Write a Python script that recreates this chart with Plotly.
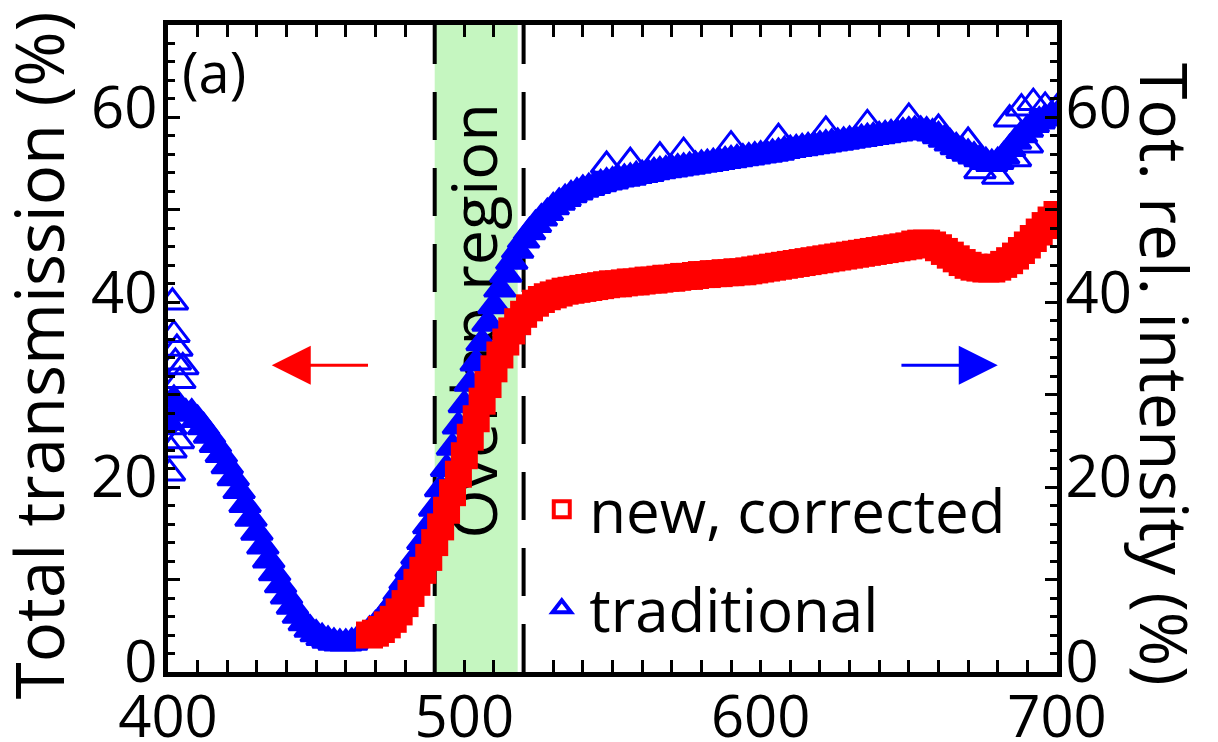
import plotly.graph_objects as go

# ---------------- data ----------------
trad_x = list(range(400, 701, 2))
trad_y = [27.0, 29.5, 28.5, 28.0, 28.0, 27.3, 26.5, 25.6, 24.6, 23.5,
          22.3, 21.0, 19.6, 18.1, 16.6, 15.1, 13.6, 12.1, 10.7, 9.4,
          8.2, 7.1, 6.1, 5.3, 4.6, 4.1, 3.7, 3.4, 3.2, 3.1,
          3.1, 3.2, 3.5, 3.9, 4.5, 5.1, 5.8, 6.6, 7.5, 8.6,
          9.8, 11.1, 12.5, 14.1, 15.8, 17.7, 19.8, 22.0, 24.3, 26.6,
          28.9, 31.2, 33.4, 35.6, 37.7, 39.6, 41.4, 43.0, 44.4, 45.6,
          46.7, 47.6, 48.4, 49.1, 49.7, 50.3, 50.8, 51.2, 51.6, 51.9,
          52.2, 52.4, 52.6, 52.8, 53.0, 53.1, 53.3, 53.4, 53.5, 53.7,
          53.8, 53.9, 54.1, 54.2, 54.3, 54.4, 54.5, 54.6, 54.7, 54.8,
          54.9, 55.0, 55.1, 55.2, 55.3, 55.4, 55.5, 55.6, 55.7, 55.8,
          55.9, 56.0, 56.1, 56.2, 56.4, 56.5, 56.6, 56.7, 56.8, 56.9,
          57.0, 57.1, 57.2, 57.3, 57.4, 57.5, 57.6, 57.7, 57.8, 57.9,
          58.0, 58.1, 58.2, 58.3, 58.4, 58.5, 58.6, 58.6, 58.5, 58.3,
          58.0, 57.6, 57.2, 56.8, 56.4, 56.1, 55.8, 55.5, 55.2, 55.0,
          55.2, 55.8, 56.6, 57.4, 58.1, 58.7, 59.2, 59.6, 59.9, 60.1,
          60.2]
# scattered / spiky "traditional" points (drawn as open triangles)
trad_extra_x = [400.5, 401, 401.5, 402, 402.5, 403, 403.5, 404, 405, 401,
                548, 556, 566, 574, 590, 606, 622, 636, 650, 660,
                670, 674, 680, 684, 688, 692, 696, 700, 686, 690]
trad_extra_y = [21.5, 24.0, 40.0, 36.5, 33.5, 35.0, 25.0, 31.5, 33.0, 26.5,
                54.8, 55.2, 55.8, 56.3, 57.0, 57.8, 58.6, 59.3, 60.0, 58.8,
                57.4, 54.2, 53.6, 59.8, 61.0, 61.6, 61.2, 61.0, 55.5, 57.0]

new_x = list(range(468, 701, 2))
new_y = [4.0, 4.2, 4.6, 5.1, 5.7, 6.5, 7.4, 8.5, 9.7, 11.0,
         12.4, 14.0, 15.7, 17.5, 19.4, 21.4, 23.4, 25.4, 27.4, 29.3,
         31.1, 32.8, 34.3, 35.7, 36.9, 37.9, 38.7, 39.4, 39.9, 40.3,
         40.6, 40.8, 41.0, 41.2, 41.3, 41.4, 41.5, 41.6, 41.7, 41.8,
         41.9, 42.0, 42.0, 42.1, 42.2, 42.2, 42.3, 42.4, 42.4, 42.5,
         42.6, 42.6, 42.7, 42.8, 42.8, 42.9, 43.0, 43.0, 43.1, 43.1,
         43.2, 43.2, 43.3, 43.3, 43.4, 43.5, 43.6, 43.7, 43.8, 43.9,
         44.0, 44.1, 44.2, 44.3, 44.4, 44.5, 44.6, 44.7, 44.8, 44.9,
         45.0, 45.1, 45.2, 45.3, 45.4, 45.5, 45.6, 45.7, 45.8, 45.9,
         46.0, 46.1, 46.3, 46.4, 46.4, 46.2, 45.9, 45.5, 45.1, 44.7,
         44.3, 44.0, 43.8, 43.7, 43.6, 43.6, 43.8, 44.1, 44.5, 45.0,
         45.6, 46.2, 46.9, 47.6, 48.3, 48.9, 49.5]

overlap_band = [490, 518]
overlap_lines = [490, 520]
x_range = [400, 700]
y_range = [0, 70]
x_tickvals = [400, 450, 500, 550, 600, 650, 700]
x_ticktext = ["400", "", "500", "", "600", "", "700"]
y_tickvals = [0, 10, 20, 30, 40, 50, 60, 70]
y_ticktext = ["0", "", "20", "", "40", "", "60", ""]

FONT = "Open Sans"
RED = "#ff0000"
BLUE = "#0000ff"

fig = go.Figure()

trad_symbols = ["triangle-up"] * len(trad_y) + ["triangle-up-open"] * len(trad_extra_y)
fig.add_trace(go.Scatter(
    x=trad_x + trad_extra_x, y=trad_y + trad_extra_y, mode="markers",
    marker=dict(symbol=trad_symbols, size=27, color=BLUE,
                line=dict(width=3, color=BLUE)),
    showlegend=False))
fig.add_trace(go.Scatter(
    x=new_x, y=new_y, mode="markers",
    marker=dict(symbol="square", size=27, color=RED,
                line=dict(width=0)),
    showlegend=False))

# legend entries
fig.add_trace(go.Scatter(
    x=[None], y=[None], mode="markers", name="new, corrected",
    legendgroup="a",
    marker=dict(symbol="square-open", size=16, color=RED,
                line=dict(width=4, color=RED))))
fig.add_trace(go.Scatter(
    x=[None], y=[None], mode="markers", name="traditional",
    legendgroup="b",
    marker=dict(symbol="triangle-up-open", size=16, color=BLUE,
                line=dict(width=4, color=BLUE))))

# invisible trace for the right axis
fig.add_trace(go.Scatter(x=[None], y=[None], yaxis="y2", showlegend=False))

# overlap band and dashed lines
fig.add_shape(type="rect", xref="x", yref="y",
              x0=overlap_band[0], x1=overlap_band[1], y0=y_range[0], y1=y_range[1],
              fillcolor="rgb(197,246,192)", line=dict(width=0), layer="below")
for xv in overlap_lines:
    fig.add_shape(type="line", xref="x", yref="y", x0=xv, x1=xv,
                  y0=y_range[0], y1=y_range[1],
                  line=dict(color="black", width=4, dash="48px,28px"),
                  layer="below")
fig.add_shape(type="rect", xref="x", yref="y",
              x0=overlap_band[0], x1=overlap_band[1], y0=14, y1=62,
              fillcolor="rgba(0,0,0,0)", line=dict(width=0), layer="below",
              label=dict(text="Overlap region", textangle=-90,
                         textposition="middle center",
                         font=dict(family=FONT, size=63, color="black")))

axis_common = dict(
    showline=True, linecolor="black", linewidth=5,
    ticks="inside", ticklen=12, tickwidth=3, tickcolor="black",
    showgrid=False, zeroline=False, automargin=False,
    tickfont=dict(family=FONT, size=58, color="black"),
)

# the page adds an 8 px body margin, so the figure is 8 px smaller on each axis
fig.update_layout(
    width=1210, height=734,
    margin=dict(l=160, r=161, t=17, b=70, autoexpand=False),
    paper_bgcolor="white", plot_bgcolor="white",
    font=dict(family=FONT, color="black"),
    xaxis=dict(range=x_range, tickvals=x_tickvals, ticktext=x_ticktext,
               mirror="allticks", ticklabelstandoff=-10,
               minor=dict(dtick=10, ticks="inside", ticklen=7, tickwidth=3,
                          tickcolor="black"),
               **axis_common),
    yaxis=dict(range=y_range, tickvals=y_tickvals, ticktext=y_ticktext,
               ticklabelstandoff=-6, ticklabelshift=-10,
               minor=dict(dtick=2, ticks="inside", ticklen=7, tickwidth=3,
                          tickcolor="black"),
               **axis_common),
    yaxis2=dict(range=y_range, tickvals=y_tickvals, ticktext=y_ticktext,
                overlaying="y", side="right", ticklabelstandoff=-8,
                ticklabelshift=-10,
                minor=dict(dtick=2, ticks="inside", ticklen=7, tickwidth=3,
                           tickcolor="black"),
                **axis_common),
    legend=dict(x=0.412, y=0.322, xanchor="left", yanchor="top",
                bgcolor="rgba(0,0,0,0)", tracegroupgap=18, itemwidth=45,
                font=dict(family=FONT, size=60, color="black")),
)

# axis titles
fig.add_annotation(text="Total transmission (%)", xref="paper", yref="paper",
                   x=-0.146, y=0.49, xanchor="center", yanchor="middle",
                   textangle=-90, showarrow=False,
                   font=dict(family=FONT, size=67, color="black"))
fig.add_annotation(text="Tot. rel. intensity (%)", xref="paper", yref="paper",
                   x=1.122, y=0.46, xanchor="center", yanchor="middle",
                   textangle=90, showarrow=False,
                   font=dict(family=FONT, size=66, color="black"))
# panel label
fig.add_annotation(text="(a)", xref="paper", yref="paper", x=0.013, y=0.99,
                   xanchor="left", yanchor="top", showarrow=False,
                   font=dict(family=FONT, size=56, color="black"))
# arrows
fig.add_annotation(x=435, y=33.2, ax=468, ay=33.2, xref="x", yref="y",
                   axref="x", ayref="y", text="", showarrow=True,
                   arrowhead=2, arrowsize=2.6, arrowwidth=3, arrowcolor=RED)
fig.add_annotation(x=680, y=33.2, ax=647, ay=33.2, xref="x", yref="y",
                   axref="x", ayref="y", text="", showarrow=True,
                   arrowhead=2, arrowsize=2.6, arrowwidth=3, arrowcolor=BLUE)

fig.write_html("out.html")
